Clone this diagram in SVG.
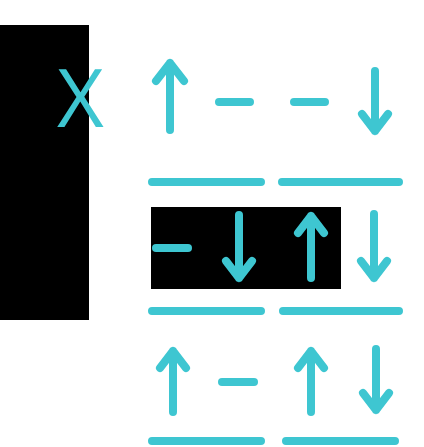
<svg xmlns="http://www.w3.org/2000/svg" width="424" height="447" viewBox="0 0 424 447">
<style>
.s{stroke:#3ec6d1;stroke-width:8;stroke-linecap:round;stroke-linejoin:round;fill:none}
.t{fill:#3ec6d1;font-family:"Open Sans","Liberation Sans",sans-serif}
</style>
<rect width="424" height="447" fill="#ffffff"/>
<g id="bg">
<rect x="0" y="25" width="89" height="295" fill="#000000"/>
<rect x="151" y="207" width="190" height="82" fill="#000000"/>
</g>
<g id="label-x"><text class="t" x="80.5" y="127" font-size="81" text-anchor="middle">X</text></g>
<g id="connectors">
<path class="s" d="M170 130V63M156 81L170 63L184 81"/>
<path class="s" d="M219 102H250M294 102H325"/>
<path class="s" d="M375 71V131M362 114L375 131L388 114"/>
<path class="s" d="M152 182H261M282 182H399"/>
<path class="s" d="M156 248H188"/>
<path class="s" d="M239 215V278M226 261L239 278L252 261"/>
<path class="s" d="M311 278V216M298 233L311 216L324 233"/>
<path class="s" d="M374 214V278M361 261L374 278L387 261"/>
<path class="s" d="M152 311H261M283 311H399"/>
<path class="s" d="M173 412V351M160 368L173 351L186 368"/>
<path class="s" d="M222 382H254"/>
<path class="s" d="M311 412V351M298 368L311 351L324 368"/>
<path class="s" d="M376 349V410M363 393L376 410L389 393"/>
<path class="s" d="M152 441H261M286 441H395"/>
</g>
</svg>
